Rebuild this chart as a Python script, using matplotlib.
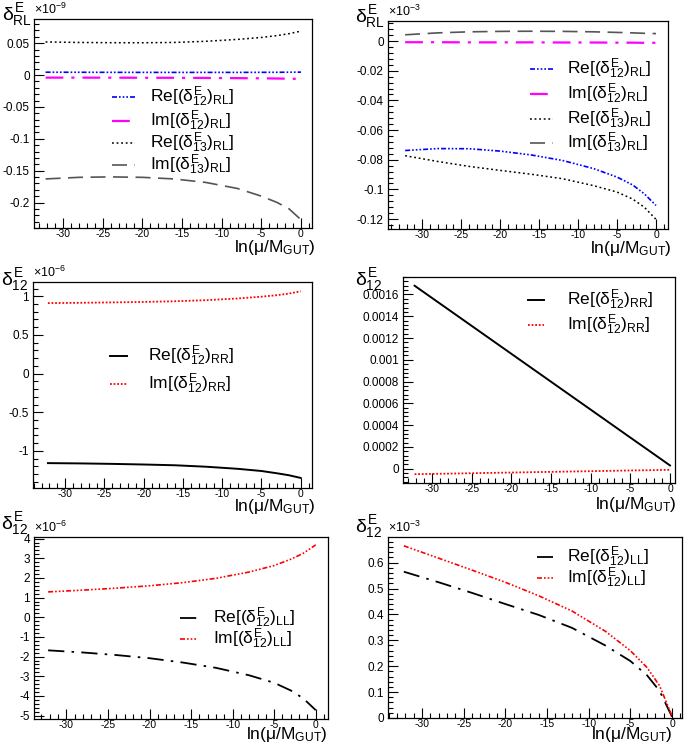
import matplotlib
matplotlib.use("Agg")
import matplotlib.pyplot as plt
from matplotlib.lines import Line2D
from matplotlib.ticker import MultipleLocator, FuncFormatter

plt.rcParams['font.family'] = ['Liberation Sans', 'DejaVu Sans']
plt.rcParams['mathtext.fontset'] = 'custom'
plt.rcParams['mathtext.rm'] = 'Liberation Sans'
plt.rcParams['mathtext.it'] = 'Liberation Sans'
plt.rcParams['mathtext.bf'] = 'Liberation Sans:bold'
plt.rcParams['axes.unicode_minus'] = False

W, H = 685, 744

# running scale ln(mu/M_GUT)
t = [-32.2, -28, -24, -20, -16, -12, -8, -5, -3, -1.5, 0]

# (delta_RL) panel 1, units 1e-9
re12_rl_a = [0.0045, 0.0044, 0.0043, 0.0042, 0.0042, 0.0042, 0.0042, 0.0043, 0.0044, 0.0045, 0.0046]
im12_rl_a = [-0.0040, -0.0040, -0.0041, -0.0042, -0.0043, -0.0045, -0.0048, -0.0051, -0.0054, -0.0057, -0.0060]
re13_rl_a = [0.0520, 0.0512, 0.0508, 0.0507, 0.0512, 0.0530, 0.0560, 0.0590, 0.0620, 0.0650, 0.0690]
im13_rl_a = [-0.163, -0.1605, -0.1598, -0.1605, -0.163, -0.1685, -0.178, -0.190, -0.200, -0.210, -0.227]

# (delta_RL) panel 2, units 1e-3
re12_rl_b = [-0.0738, -0.0725, -0.0726, -0.0742, -0.0768, -0.0805, -0.0860, -0.0917, -0.0970, -0.1030, -0.1108]
im12_rl_b = [-0.0008, -0.0008, -0.0009, -0.0009, -0.0009, -0.0010, -0.0010, -0.0011, -0.0011, -0.0012, -0.0012]
re13_rl_b = [-0.0773, -0.0812, -0.0845, -0.0872, -0.0898, -0.0928, -0.0975, -0.1018, -0.1065, -0.1120, -0.1202]
im13_rl_b = [0.0042, 0.0055, 0.0062, 0.0065, 0.0066, 0.0065, 0.0062, 0.0058, 0.0055, 0.0052, 0.0050]

# (delta_12)_RR panel 3, units 1e-6
re12_rr_a = [-1.158, -1.162, -1.168, -1.176, -1.186, -1.205, -1.232, -1.260, -1.290, -1.315, -1.350]
im12_rr_a = [0.912, 0.916, 0.921, 0.927, 0.936, 0.950, 0.972, 0.995, 1.015, 1.035, 1.065]

# (delta_12)_RR panel 4
re12_rr_b = [0.00168, 0.001465, 0.00126, 0.001055, 0.00085, 0.000645, 0.00044, 0.000286, 0.000184, 0.000107, 0.00003]
im12_rr_b = [-0.000050, -0.000045, -0.000040, -0.000035, -0.000030, -0.000025, -0.000020, -0.000016, -0.000014, -0.000012, -0.000010]

# (delta_12)_LL panel 5, units 1e-6
re12_ll_a = [-1.68, -1.79, -1.92, -2.08, -2.30, -2.57, -2.95, -3.33, -3.72, -4.12, -4.72]
im12_ll_a = [1.29, 1.38, 1.48, 1.60, 1.76, 1.98, 2.30, 2.63, 2.95, 3.25, 3.68]

# (delta_12)_LL panel 6, units 1e-3
re12_ll_b = [0.565, 0.524, 0.483, 0.440, 0.398, 0.348, 0.280, 0.220, 0.165, 0.105, 0.005]
im12_ll_b = [0.665, 0.617, 0.571, 0.524, 0.472, 0.413, 0.335, 0.260, 0.195, 0.125, 0.008]

# line styles (ROOT-like)
s_re12_rl = dict(color='blue', lw=1.2, ls=(0, (3, 1.2, 1, 1.2, 1, 1.2, 1, 1.2)))
s_im12_rl = dict(color='magenta', lw=1.6, ls=(0, (8, 3.6, 1.4, 3.6)))
s_re13_rl = dict(color='black', lw=1.1, ls=(0, (1.2, 1.8)))
s_im13_rl = dict(color='#555555', lw=1.2, ls=(0, (9, 4.5)))
s_re_rr = dict(color='black', lw=1.4, ls='-')
s_im_rr = dict(color='red', lw=1.3, ls=(0, (1, 1)))
s_re_ll = dict(color='black', lw=1.3, ls=(0, (9, 4, 1.4, 4)))
s_im_ll = dict(color='red', lw=1.2, ls=(0, (3, 1.2, 1, 1.2, 1, 1.2, 1, 1.2)))

lab_re12_rl = r"Re[$(\delta^{E}_{12})_{RL}$]"
lab_im12_rl = r"Im[$(\delta^{E}_{12})_{RL}$]"
lab_re13_rl = r"Re[$(\delta^{E}_{13})_{RL}$]"
lab_im13_rl = r"Im[$(\delta^{E}_{13})_{RL}$]"
lab_re_rr = r"Re[$(\delta^{E}_{12})_{RR}$]"
lab_im_rr = r"Im[$(\delta^{E}_{12})_{RR}$]"
lab_re_ll = r"Re[$(\delta^{E}_{12})_{LL}$]"
lab_im_ll = r"Im[$(\delta^{E}_{12})_{LL}$]"

fig = plt.figure(figsize=(W / 100, H / 100), dpi=100)


def fx(x):
    return x / W


def fy(y):
    return 1 - y / H


def make_ax(x0, y0, x1, y1):
    ax = fig.add_axes([fx(x0), fy(y1), fx(x1 - x0), (y1 - y0) / H])
    for sp in ax.spines.values():
        sp.set_linewidth(0.9)
    ax.tick_params(which='both', direction='in', top=False, right=False, width=0.8)
    ax.tick_params(axis='x', labelsize=7.5, pad=1)
    ax.tick_params(axis='y', labelsize=8.5, pad=3)
    ax.tick_params(which='major', length=7)
    ax.tick_params(which='minor', length=3.5)
    ax.xaxis.set_major_locator(MultipleLocator(5))
    ax.xaxis.set_minor_locator(MultipleLocator(1))
    fmt = FuncFormatter(lambda v, p: '%g' % round(v, 10))
    ax.xaxis.set_major_formatter(fmt)
    ax.yaxis.set_major_formatter(fmt)
    return ax


def labels(ax, ylab, lx, ly, mult, xr, xt):
    fig.text(fx(lx), fy(ly), ylab, ha='left', va='top', fontsize=14)
    if mult:
        ax.text(0.0, 1.01, mult, transform=ax.transAxes, ha='left', va='bottom', fontsize=9)
    fig.text(fx(xr), fy(xt), r"ln($\mu$/M$_{GUT}$)", ha='right', va='top', fontsize=12.5)


def legend(entries, sx0, sx1, tx, ys):
    for (style, lab), y in zip(entries, ys):
        fig.add_artist(Line2D([fx(sx0), fx(sx1)], [fy(y), fy(y)], transform=fig.transFigure, **style))
        fig.text(fx(tx), fy(y), lab, ha='left', va='center', fontsize=12.5)


# panel 1
ax = make_ax(34, 19, 312, 228)
ax.plot(t, re12_rl_a, **s_re12_rl)
ax.plot(t, im12_rl_a, **s_im12_rl)
ax.plot(t, re13_rl_a, **s_re13_rl)
ax.plot(t, im13_rl_a, **s_im13_rl)
ax.set_xlim(-33.66, 1.39)
ax.set_ylim(-0.240, 0.088)
ax.yaxis.set_major_locator(MultipleLocator(0.05))
ax.yaxis.set_minor_locator(MultipleLocator(0.01))
labels(ax, r"$\delta^{E}_{RL}$", 2, 1, r"$\times$10$^{-9}$", 316, 238)
legend([(s_re12_rl, lab_re12_rl), (s_im12_rl, lab_im12_rl), (s_re13_rl, lab_re13_rl), (s_im13_rl, lab_im13_rl)],
       112, 135, 150, [97, 121, 143, 165])

# panel 2
ax = make_ax(388, 21, 668, 229)
ax.plot(t, re12_rl_b, **s_re12_rl)
ax.plot(t, im12_rl_b, **s_im12_rl)
ax.plot(t, re13_rl_b, **s_re13_rl)
ax.plot(t, im13_rl_b, **s_im13_rl)
ax.set_xlim(-34.4, 1.54)
ax.set_ylim(-0.1267, 0.0135)
ax.yaxis.set_major_locator(MultipleLocator(0.02))
ax.yaxis.set_minor_locator(MultipleLocator(0.004))
labels(ax, r"$\delta^{E}_{RL}$", 355, 3, r"$\times$10$^{-3}$", 672, 239)
legend([(s_re12_rl, lab_re12_rl), (s_im12_rl, lab_im12_rl), (s_re13_rl, lab_re13_rl), (s_im13_rl, lab_im13_rl)],
       530, 553, 567, [69, 94, 119, 143])

# panel 3
ax = make_ax(33, 282, 312, 488)
ax.plot(t, re12_rr_a, **s_re_rr)
ax.plot(t, im12_rr_a, **s_im_rr)
ax.set_xlim(-34.1, 1.44)
ax.set_ylim(-1.48, 1.185)
ax.yaxis.set_major_locator(MultipleLocator(0.5))
ax.yaxis.set_minor_locator(MultipleLocator(0.1))
labels(ax, r"$\delta^{E}_{12}$", 1, 266, r"$\times$10$^{-6}$", 316, 497)
legend([(s_re_rr, lab_re_rr), (s_im_rr, lab_im_rr)], 110, 127, 148, [356, 384])

# panel 4
ax = make_ax(403, 277, 675, 483)
ax.plot(t, re12_rr_b, **s_re_rr)
ax.plot(t, im12_rr_b, **s_im_rr)
ax.set_xlim(-33.66, 0.63)
ax.set_ylim(-0.000131, 0.00176)
ax.yaxis.set_major_locator(MultipleLocator(0.0002))
ax.yaxis.set_minor_locator(MultipleLocator(0.00004))
labels(ax, r"$\delta^{E}_{12}$", 355, 266, None, 677, 495)
legend([(s_re_rr, lab_re_rr), (s_im_rr, lab_im_rr)], 528, 544, 567, [300, 325])

# panel 5
ax = make_ax(34, 537, 328, 719)
ax.plot(t, re12_ll_a, **s_re_ll)
ax.plot(t, im12_ll_a, **s_im_ll)
ax.set_xlim(-33.9, 1.48)
ax.set_ylim(-5.17, 4.08)
ax.yaxis.set_major_locator(MultipleLocator(1))
ax.yaxis.set_minor_locator(MultipleLocator(0.2))
labels(ax, r"$\delta^{E}_{12}$", 1, 510, r"$\times$10$^{-6}$", 328, 725)
legend([(s_re_ll, lab_re_ll), (s_im_ll, lab_im_ll)], 180, 197, 213, [618, 639])

# panel 6
ax = make_ax(388, 537, 682, 718)
ax.plot(t, re12_ll_b, **s_re_ll)
ax.plot(t, im12_ll_b, **s_im_ll)
ax.set_xlim(-34.1, 1.2)
ax.set_ylim(0, 0.699)
ax.yaxis.set_major_locator(MultipleLocator(0.1))
ax.yaxis.set_minor_locator(MultipleLocator(0.02))
labels(ax, r"$\delta^{E}_{12}$", 355, 513, r"$\times$10$^{-3}$", 673, 725)
legend([(s_re_ll, lab_re_ll), (s_im_ll, lab_im_ll)], 537, 553, 567, [557, 578])

fig.savefig("out.png", dpi=100)
